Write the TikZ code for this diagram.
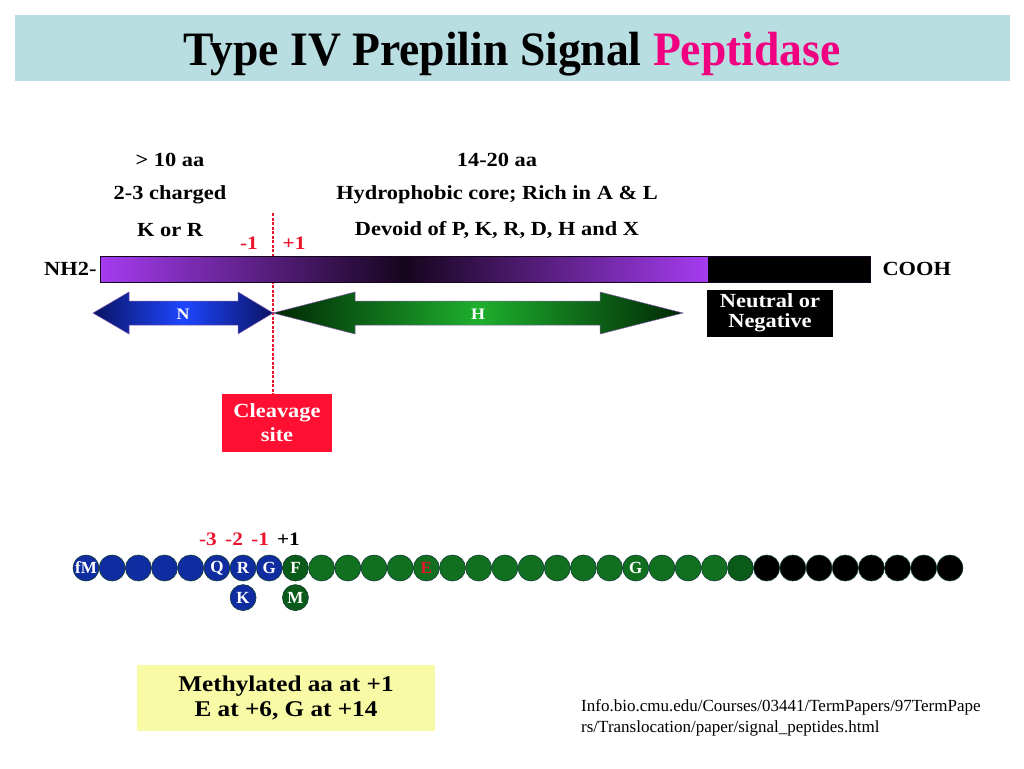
\documentclass[tikz,border=0pt]{standalone}
\usepackage{fontspec}
\setmainfont{Liberation Serif}
\newfontfamily\widefont{Liberation Serif}[FakeStretch=1.12]
\newfontfamily\titlefont{Liberation Serif}[FakeStretch=0.95]
\usetikzlibrary{positioning}

\definecolor{titlebg}{RGB}{184,222,226}
\definecolor{pepink}{RGB}{240,0,128}
\definecolor{sitered}{RGB}{235,20,45}
\definecolor{boxred}{RGB}{255,15,50}
\definecolor{notepale}{RGB}{248,250,165}
\definecolor{barpurple}{RGB}{165,60,240}
\definecolor{bardark}{RGB}{22,5,30}
\definecolor{nnavy}{RGB}{10,20,100}
\definecolor{nblue}{RGB}{30,70,255}
\definecolor{hdark}{RGB}{0,40,5}
\definecolor{hgreen}{RGB}{30,175,45}
\definecolor{arrowedge}{RGB}{130,90,170}
\definecolor{resblue}{RGB}{15,45,160}
\definecolor{resgreen}{RGB}{16,112,32}
\definecolor{resdeep}{RGB}{10,90,25}
\definecolor{resring}{RGB}{20,60,55}

\begin{document}
\begin{tikzpicture}[
    x=1pt, y=-1pt,
    heading/.style={
        font=\widefont\bfseries\fontsize{20}{22}\selectfont,
        inner sep=0pt
    },
    mark_label/.style={
        font=\widefont\bfseries\fontsize{19}{20}\selectfont,
        text=sitered,
        inner sep=0pt
    },
    info_box/.style={
        rectangle,
        text=white,
        align=center,
        inner sep=0pt,
        font=\widefont\bfseries\fontsize{20}{20}\selectfont
    },
    residue/.style={
        circle,
        minimum size=26pt,
        inner sep=0pt,
        draw=resring,
        line width=0.6pt,
        text=white,
        font=\bfseries\fontsize{17}{17}\selectfont
    },
    res_text/.style={
        text=white,
        inner sep=0pt,
        font=\bfseries\fontsize{17}{17}\selectfont
    },
    n_arrow/.style={
        left color=nnavy, right color=nnavy, middle color=nblue,
        draw=arrowedge, line width=0.5pt
    },
    h_arrow/.style={
        left color=hdark, right color=hdark, middle color=hgreen,
        draw=arrowedge, line width=0.5pt
    },
    cut_line/.style={
        draw=sitered, line width=1.3pt, dash pattern=on 3pt off 1.5pt
    }
]
\useasboundingbox (0,0) rectangle (1024,768);

\node (title_bar) [fill=titlebg, minimum width=995pt, minimum height=66pt, inner sep=0pt]
    at (512.5,48) {};
\node (title) [anchor=base, inner sep=0pt, font=\titlefont\bfseries\fontsize{48}{48}\selectfont]
    at (512,65) {Type IV Prepilin Signal \textcolor{pepink}{Peptidase}};

\node (n_len) [heading] at (170,160) {> 10 aa};
\node (n_charge) [heading] at (170,195) {2-3 charged};
\node (n_kr) [heading] at (170,230) {K or R};
\node (h_len) [heading] at (497,160) {14-20 aa};
\node (h_core) [heading] at (497,195) {Hydrophobic core; Rich in A \& L};
\node (h_devoid) [heading] at (497,230) {Devoid of P, K, R, D, H and X};
\node (minus_one) [mark_label] at (249,243) {-1};
\node (plus_one) [mark_label] at (294,243) {+1};

\node (cleave) [info_box, fill=boxred, minimum width=110pt, minimum height=58pt,
    font=\widefont\bfseries\fontsize{20}{24}\selectfont] at (277,423) {Cleavage\\site};
\coordinate (cut) at (273,213);
\draw [cut_line] (cut) -- (cut |- cleave.north);

\shade [left color=barpurple, right color=bardark] (100,256) rectangle (405,282);
\shade [left color=bardark, right color=barpurple] (405,256) rectangle (708,282);
\fill [black] (708,256) rectangle (870,282);
\node (bar) [draw=bardark, line width=0.6pt, minimum width=770pt, minimum height=26pt,
    inner sep=0pt] at (485,269) {};
\node (nh2) [heading, left=3pt of bar] {NH2-};
\node (cooh) [heading, right=12pt of bar] {COOH};

\shadedraw [n_arrow] (93,313) -- (129,292) -- (129,301) -- (238,301) -- (238,292)
    -- (273,313) -- (238,334) -- (238,325) -- (129,325) -- (129,334) -- cycle;
\shadedraw [h_arrow] (273,313) -- (355,292) -- (355,301) -- (600,301) -- (600,292)
    -- (683,313) -- (600,334) -- (600,325) -- (355,325) -- (355,334) -- cycle;
\node (n_region) [res_text, font=\widefont\bfseries\fontsize{16}{16}\selectfont]
    at (183,314) {N};
\node (h_region) [res_text, font=\widefont\bfseries\fontsize{16}{16}\selectfont]
    at (478,314) {H};

\node (c_region) [info_box, fill=black, minimum width=126pt, minimum height=47pt]
    at (770,313) {Neutral or\\Negative};

\foreach \i in {1,...,8}
    \node (res_\i) [residue, fill=resblue] at ({86+(\i-1)*26.18},568) {};
\foreach \i in {10,...,25}
    \node (res_\i) [residue, fill=resgreen] at ({86+(\i-1)*26.18},568) {};
\foreach \i in {9,26}
    \node (res_\i) [residue, fill=resdeep] at ({86+(\i-1)*26.18},568) {};
\foreach \i in {27,...,34}
    \node (res_\i) [residue, fill=black] at ({86+(\i-1)*26.18},568) {};
\foreach \i/\lab in {1/fM, 6/Q, 7/R, 8/G, 9/F, 22/G}
    \node [res_text] at (res_\i) {\lab};
\node [res_text, text=sitered] at (res_14) {E};

\node (res_k) [residue, fill=resblue, below=3pt of res_7] {K};
\node (res_m) [residue, fill=resdeep, below=3pt of res_9] {M};

\node (pos_m3) [mark_label, above=9pt of res_6, xshift=-9pt] {-3};
\node (pos_m2) [mark_label, above=9pt of res_7, xshift=-9pt] {-2};
\node (pos_m1) [mark_label, above=9pt of res_8, xshift=-9pt] {-1};
\node (pos_p1) [mark_label, text=black, above=9pt of res_9, xshift=-7pt] {+1};

\node (note) [fill=notepale, minimum width=298pt, minimum height=66pt, align=center,
    inner sep=0pt, font=\widefont\bfseries\fontsize{22.5}{25}\selectfont] at (286,698)
    {Methylated aa at +1\\E at +6, G at +14};
\node (source) [anchor=west, align=left, inner sep=0pt,
    font=\fontsize{17}{21}\selectfont] at (581,718)
    {Info.bio.cmu.edu/Courses/03441/TermPapers/97TermPape\\rs/Translocation/paper/signal\_peptides.html};

\end{tikzpicture}
\end{document}
